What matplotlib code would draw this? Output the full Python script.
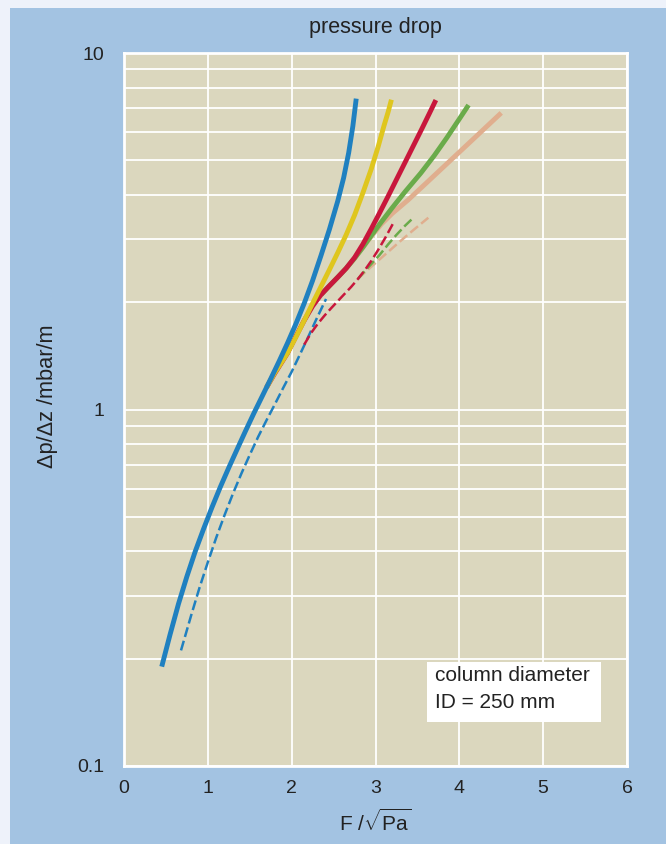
import matplotlib
matplotlib.use('Agg')
import matplotlib.pyplot as plt
from matplotlib.patches import Rectangle
from matplotlib.ticker import FixedLocator, NullFormatter, LogLocator

plt.rcParams['font.family'] = ['Liberation Sans', 'DejaVu Sans']
plt.rcParams['mathtext.fontset'] = 'custom'
plt.rcParams['mathtext.rm'] = 'Liberation Sans'
plt.rcParams['mathtext.it'] = 'Liberation Sans:italic'

# solid curves (F factor, pressure drop)
blue_x = [0.45, 0.55, 0.65, 0.75, 0.85, 0.95, 1.05, 1.15, 1.25, 1.35, 1.45, 1.55, 1.65,
          1.75, 1.85, 1.95, 2.05, 2.15, 2.25, 2.35, 2.45, 2.55, 2.62, 2.68, 2.73, 2.77]
blue_y = [0.190, 0.234, 0.285, 0.340, 0.400, 0.463, 0.532, 0.607, 0.687, 0.774, 0.871, 0.977, 1.091,
          1.219, 1.365, 1.535, 1.738, 1.986, 2.301, 2.704, 3.199, 3.846, 4.467, 5.248, 6.237, 7.447]

yellow_x = [1.70, 1.80, 1.95, 2.05, 2.15, 2.25, 2.35, 2.45, 2.55, 2.65, 2.75, 2.85, 2.95,
            3.03, 3.10, 3.15, 3.19]
yellow_y = [1.153, 1.270, 1.439, 1.596, 1.778, 1.986, 2.213, 2.466, 2.754, 3.090, 3.508, 4.055, 4.732,
            5.445, 6.237, 6.823, 7.396]

red_x = [1.70, 1.80, 1.95, 2.05, 2.15, 2.25, 2.35, 2.45, 2.55, 2.65, 2.75, 2.85, 2.95, 3.05,
         3.15, 3.25, 3.35, 3.45, 3.55, 3.65, 3.72]
red_y = [1.153, 1.265, 1.439, 1.603, 1.778, 1.950, 2.099, 2.223, 2.350, 2.489, 2.667, 2.911, 3.214, 3.565,
         3.963, 4.416, 4.920, 5.483, 6.109, 6.823, 7.379]

green_x = [2.35, 2.45, 2.55, 2.65, 2.75, 2.85, 2.95, 3.05, 3.20, 3.35, 3.54, 3.70, 3.85, 4.00, 4.11]
green_y = [2.099, 2.223, 2.350, 2.489, 2.655, 2.851, 3.076, 3.311, 3.681, 4.074, 4.603, 5.152, 5.781,
           6.531, 7.145]

salmon_x = [2.35, 2.45, 2.55, 2.65, 2.75, 2.85, 2.95, 3.07, 3.20, 3.39, 3.60, 3.80, 4.00, 4.20,
            4.35, 4.50]
salmon_y = [2.099, 2.223, 2.350, 2.489, 2.655, 2.851, 3.062, 3.311, 3.548, 3.873, 4.305, 4.764, 5.272,
            5.834, 6.295, 6.792]

# dashed curves
blue_d_x = [0.68, 0.80, 0.90, 1.00, 1.10, 1.20, 1.30, 1.40, 1.50, 1.60, 1.70, 1.80, 1.90,
            2.00, 2.10, 2.20, 2.30, 2.41]
blue_d_y = [0.211, 0.264, 0.316, 0.373, 0.437, 0.506, 0.581, 0.661, 0.746, 0.838, 0.933, 1.035, 1.151,
            1.276, 1.429, 1.603, 1.803, 2.042]

red_d_x = [2.15, 2.23, 2.31, 2.39, 2.47, 2.55, 2.63, 2.71, 2.79, 2.87, 2.95, 3.03, 3.12, 3.21]
red_d_y = [1.521, 1.637, 1.738, 1.832, 1.923, 2.014, 2.109, 2.208, 2.323, 2.455, 2.612, 2.799,
           3.041, 3.327]

green_d_x = [2.79, 2.87, 2.95, 3.05, 3.15, 3.25, 3.35, 3.43]
green_d_y = [2.323, 2.443, 2.559, 2.716, 2.904, 3.090, 3.273, 3.412]

salmon_d_x = [2.79, 2.87, 3.00, 3.15, 3.30, 3.45, 3.63]
salmon_d_y = [2.323, 2.421, 2.576, 2.767, 2.972, 3.184, 3.451]

BLUE = '#1f80c0'
YELLOW = '#dfc61e'
RED = '#c8173c'
GREEN = '#6aab4a'
SALMON = '#e0ae8e'
TEXT = '#222222'

fig = plt.figure(figsize=(6.66, 8.44), dpi=100)
fig.patch.set_facecolor('#eef2fa')
fig.patches.append(Rectangle((10 / 666, 0), 1, (844 - 8) / 844, transform=fig.transFigure,
                             facecolor='#a3c3e2', edgecolor='none', zorder=-10))

ax = fig.add_axes([124 / 666, 1 - 766 / 844, 503 / 666, 713 / 844])
ax.set_facecolor('#dbd7be')
ax.set_yscale('log')
ax.set_xlim(0, 6)
ax.set_ylim(0.1, 10)

ax.xaxis.set_major_locator(FixedLocator([0, 1, 2, 3, 4, 5, 6]))
ax.yaxis.set_major_locator(FixedLocator([0.1, 1, 10]))
ax.set_yticklabels(['0.1', '1', '10'])
ax.yaxis.set_minor_locator(LogLocator(base=10, subs=range(2, 10)))
ax.yaxis.set_minor_formatter(NullFormatter())
ax.grid(True, which='both', color='white', lw=1.3)
ax.set_axisbelow(True)
ax.tick_params(which='both', length=0)
ax.tick_params(axis='x', pad=10, labelsize=14, colors=TEXT)
ax.tick_params(axis='y', pad=14, labelsize=14, colors=TEXT)
for s in ax.spines.values():
    s.set_color('white')
    s.set_linewidth(2)

lw = 3.5
dlw = 1.8
dash = (4, 1.6)
solid = dict(lw=lw, solid_capstyle='butt', solid_joinstyle='round')
dashed = dict(lw=dlw, dashes=dash, dash_capstyle='butt', dash_joinstyle='round')

# dashed first, solids on top
ax.plot(blue_d_x, blue_d_y, color=BLUE, zorder=3, **dashed)
ax.plot(salmon_d_x, salmon_d_y, color=SALMON, zorder=3, **dashed)
ax.plot(green_d_x, green_d_y, color=GREEN, zorder=3, **dashed)
ax.plot(red_d_x, red_d_y, color=RED, zorder=4, **dashed)

ax.plot(salmon_x, salmon_y, color=SALMON, zorder=5, **solid)
ax.plot(green_x, green_y, color=GREEN, zorder=6, **solid)
ax.plot(red_x, red_y, color=RED, zorder=7, **solid)
ax.plot(yellow_x, yellow_y, color=YELLOW, zorder=8, **solid)
ax.plot(blue_x, blue_y, color=BLUE, zorder=9, **solid)

# info box
ax.add_patch(Rectangle((0.602, 0.0617), 0.346, 0.0842, transform=ax.transAxes,
                       facecolor='white', edgecolor='none', zorder=10))
ax.text(0.618, 0.127, 'column diameter', transform=ax.transAxes, fontsize=15,
        color=TEXT, va='center', zorder=11)
ax.text(0.618, 0.089, 'ID = 250 mm', transform=ax.transAxes, fontsize=15,
        color=TEXT, va='center', zorder=11)

fig.text(375 / 666, 1 - 27 / 844, 'pressure drop', ha='center', va='center',
         fontsize=15.5, color=TEXT)
fig.text(375 / 666, 1 - 822 / 844, r'F /$\sqrt{\mathrm{Pa}}$', ha='center', va='center',
         fontsize=15, color=TEXT)
fig.text(48 / 666, 1 - 396 / 844, 'Δp/Δz /mbar/m', ha='center', va='center',
         rotation=90, fontsize=15.7, color=TEXT)

fig.savefig('out.png', dpi=100, facecolor=fig.get_facecolor())
